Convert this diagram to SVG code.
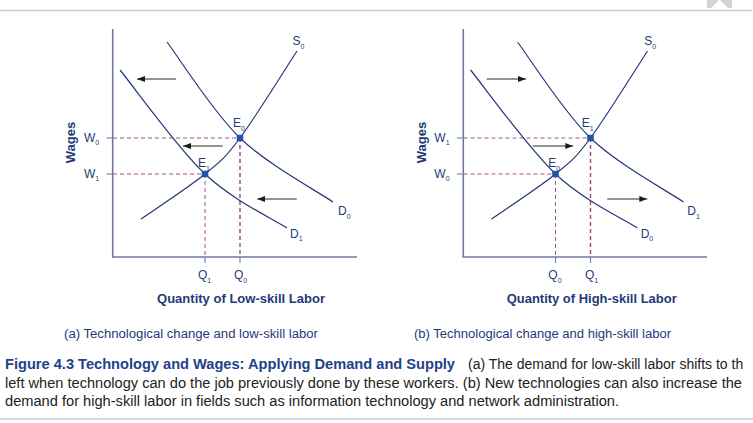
<svg xmlns="http://www.w3.org/2000/svg" width="753" height="423" viewBox="0 0 753 423">
<style>
  .ax { stroke: #6a78a8; stroke-width: 1.6; fill: none; }
  .tick { stroke: #7d88b0; stroke-width: 1.2; }
  .crv { stroke: #26387c; stroke-width: 1.2; fill: none; }
  .dsh { stroke: #a4558f; stroke-width: 1; stroke-dasharray: 4 3; fill: none; }
  .dshk { stroke: #9a447f; stroke-width: 1.4; stroke-dasharray: 4 3; fill: none; }
  .arr { stroke: #2a2a2a; stroke-width: 1.2; fill: none; marker-end: url(#ah); }
  .dot { fill: #2054a4; }
  .lb { font-family: "Liberation Sans", Arial, sans-serif; font-size: 12px; fill: #1f3a78; }
  .sub { font-size: 7px; }
  .ttl { font-family: "Liberation Sans", Arial, sans-serif; font-size: 13px; font-weight: bold; fill: #1f3a78; }
  .cap { font-family: "Liberation Sans", Arial, sans-serif; font-size: 12px; fill: #1f3a78; }
  .fig { font-family: "Liberation Sans", Arial, sans-serif; font-size: 14px; fill: #222; }
  .figb { font-family: "Liberation Sans", Arial, sans-serif; font-size: 14px; font-weight: bold; fill: #1d428a; }
  .rule { stroke: #cccccc; stroke-width: 1.5; }
</style>
<defs>
  <marker id="ah" markerUnits="userSpaceOnUse" markerWidth="8" markerHeight="6" refX="8" refY="3" orient="auto">
    <path d="M0,0 L8,3 L0,6 z" fill="#1a1a1a"/>
  </marker>
  <path id="sup" d="M141,219 C151.7,211.5 188.5,187.5 205,174 C221.5,160.5 224.7,158.5 240,138 C255.3,117.5 287.5,65.5 297,51"/>
  <path id="dhi" d="M167,42 C179.2,58 212.3,111.3 240,138 C267.7,164.7 317.5,191.3 333,202"/>
  <path id="dlo" d="M120,70 C134.2,87.3 177.2,147.7 205,174 C232.8,200.3 273.3,219 287,228"/>
</defs>
<rect width="753" height="423" fill="#ffffff"/>
<line class="rule" x1="0" y1="10.5" x2="752" y2="10.5"/>
<g id="corner">
  <rect x="707" y="0" width="25" height="8" fill="#d3d3d3"/>
  <polygon points="711,8 719.5,-0.5 728,8" fill="#ffffff"/>
</g>

<g id="panel-a">
  <g id="a-axes">
    <line class="ax" x1="112.7" y1="29" x2="112.7" y2="257"/>
    <line class="ax" x1="112" y1="257" x2="357" y2="257"/>
    <line class="tick" x1="106.5" y1="138" x2="112" y2="138"/>
    <line class="tick" x1="106.5" y1="174" x2="112" y2="174"/>
    <line class="tick" x1="205" y1="257" x2="205" y2="263"/>
    <line class="tick" x1="240" y1="257" x2="240" y2="263"/>
  </g>
  <g id="a-guides">
    <path class="dsh" d="M113,138 H240"/>
    <path class="dsh" d="M113,174 H205"/>
    <path class="dsh" d="M205,174 V257"/>
    <path class="dshk" d="M240,138 V257"/>
  </g>
  <g id="a-curves">
    <use href="#sup" class="crv"/>
    <use href="#dhi" class="crv"/>
    <use href="#dlo" class="crv"/>
  </g>
  <g id="a-arrows">
    <path class="arr" d="M176,79 H137"/>
    <path class="arr" d="M222.7,146 H183"/>
    <path class="arr" d="M296.7,199 H257.3"/>
  </g>
  <g id="a-E0"><rect class="dot" x="236.7" y="134.7" width="6.6" height="6.6" rx="1"/></g>
  <g id="a-E1"><rect class="dot" x="201.7" y="170.7" width="6.6" height="6.6" rx="1"/></g>
  <g id="a-labels">
    <text class="lb" x="292.5" y="45">S<tspan class="sub" dy="3.5">0</tspan></text>
    <text class="lb" x="233" y="127">E<tspan class="sub" dy="3.5">0</tspan></text>
    <text class="lb" x="198" y="167">E<tspan class="sub" dy="3.5">1</tspan></text>
    <text class="lb" x="84" y="141.5">W<tspan class="sub" dy="3.5">0</tspan></text>
    <text class="lb" x="84" y="177.5">W<tspan class="sub" dy="3.5">1</tspan></text>
    <text class="lb" x="338" y="215">D<tspan class="sub" dy="3.5">0</tspan></text>
    <text class="lb" x="290" y="237.5">D<tspan class="sub" dy="3.5">1</tspan></text>
    <text class="lb" x="198" y="279">Q<tspan class="sub" dy="3.5">1</tspan></text>
    <text class="lb" x="234" y="279">Q<tspan class="sub" dy="3.5">0</tspan></text>
    <text class="ttl" x="241" y="303" text-anchor="middle" textLength="168" lengthAdjust="spacingAndGlyphs">Quantity of Low-skill Labor</text>
    <text class="ttl" transform="translate(75,142.5) rotate(-90)" text-anchor="middle" textLength="41.6" lengthAdjust="spacingAndGlyphs">Wages</text>
    <text class="cap" x="64" y="338" textLength="254" lengthAdjust="spacingAndGlyphs">(a) Technological change and low-skill labor</text>
  </g>
</g>

<g id="panel-b">
  <g id="b-axes">
    <line class="ax" x1="463.3" y1="29" x2="463.3" y2="257"/>
    <line class="ax" x1="462.5" y1="257" x2="707" y2="257"/>
    <line class="tick" x1="457" y1="138" x2="462.5" y2="138"/>
    <line class="tick" x1="457" y1="174" x2="462.5" y2="174"/>
    <line class="tick" x1="555.5" y1="257" x2="555.5" y2="263"/>
    <line class="tick" x1="590.5" y1="257" x2="590.5" y2="263"/>
  </g>
  <g id="b-guides">
    <path class="dsh" d="M463.5,138 H590.5"/>
    <path class="dsh" d="M463.5,174 H555.5"/>
    <path class="dsh" d="M555.5,174 V257"/>
    <path class="dshk" d="M590.5,138 V257"/>
  </g>
  <g id="b-curves" transform="translate(350.5,0)">
    <use href="#sup" class="crv"/>
    <use href="#dhi" class="crv"/>
    <use href="#dlo" class="crv"/>
  </g>
  <g id="b-arrows">
    <path class="arr" d="M486.7,79 H526"/>
    <path class="arr" d="M532.7,146 H573.3"/>
    <path class="arr" d="M607.3,199 H647.3"/>
  </g>
  <g id="b-E1"><rect class="dot" x="587.2" y="134.7" width="6.6" height="6.6" rx="1"/></g>
  <g id="b-E0"><rect class="dot" x="552.2" y="170.7" width="6.6" height="6.6" rx="1"/></g>
  <g id="b-labels">
    <text class="lb" x="644.3" y="45">S<tspan class="sub" dy="3.5">0</tspan></text>
    <text class="lb" x="581.7" y="127">E<tspan class="sub" dy="3.5">1</tspan></text>
    <text class="lb" x="548.3" y="167">E<tspan class="sub" dy="3.5">0</tspan></text>
    <text class="lb" x="434.3" y="141.5">W<tspan class="sub" dy="3.5">1</tspan></text>
    <text class="lb" x="434.3" y="177.5">W<tspan class="sub" dy="3.5">0</tspan></text>
    <text class="lb" x="687.3" y="215">D<tspan class="sub" dy="3.5">1</tspan></text>
    <text class="lb" x="640.7" y="237.5">D<tspan class="sub" dy="3.5">0</tspan></text>
    <text class="lb" x="548.3" y="279">Q<tspan class="sub" dy="3.5">0</tspan></text>
    <text class="lb" x="585" y="279">Q<tspan class="sub" dy="3.5">1</tspan></text>
    <text class="ttl" x="591.7" y="303" text-anchor="middle" textLength="170" lengthAdjust="spacingAndGlyphs">Quantity of High-skill Labor</text>
    <text class="ttl" transform="translate(426,142.5) rotate(-90)" text-anchor="middle" textLength="41.6" lengthAdjust="spacingAndGlyphs">Wages</text>
    <text class="cap" x="414" y="338" textLength="257" lengthAdjust="spacingAndGlyphs">(b) Technological change and high-skill labor</text>
  </g>
</g>

<g id="figure-caption">
  <text class="figb" x="5" y="369" textLength="450" lengthAdjust="spacingAndGlyphs">Figure 4.3 Technology and Wages: Applying Demand and Supply</text>
  <text class="fig" x="468" y="369">(a) The demand for low-skill labor shifts to th</text>
  <text class="fig" x="5" y="388" textLength="737" lengthAdjust="spacingAndGlyphs">left when technology can do the job previously done by these workers. (b) New technologies can also increase the</text>
  <text class="fig" x="5" y="406" textLength="614" lengthAdjust="spacingAndGlyphs">demand for high-skill labor in fields such as information technology and network administration.</text>
</g>
<line class="rule" x1="0" y1="419" x2="753" y2="419"/>
</svg>
